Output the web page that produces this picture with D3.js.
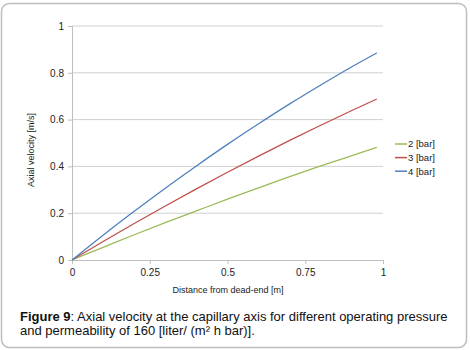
<!DOCTYPE html>
<html><head><meta charset="utf-8">
<script src="https://cdn.jsdelivr.net/npm/d3@7"></script>
<style>body{margin:0;background:#fff}svg{display:block;font-family:"Liberation Sans",Arial,sans-serif}</style>
</head><body><svg id="c" width="470" height="350"></svg>
<script>
const xs = [0, 0.1, 0.2, 0.3, 0.4, 0.5, 0.6, 0.7, 0.8, 0.9, 0.98];
const v2 = [0, 0.054, 0.108, 0.160, 0.210, 0.260, 0.308, 0.356, 0.402, 0.446, 0.481];
const v3 = [0, 0.079, 0.156, 0.231, 0.304, 0.375, 0.444, 0.511, 0.576, 0.639, 0.688];
const v4 = [0, 0.106, 0.208, 0.307, 0.402, 0.494, 0.582, 0.667, 0.748, 0.826, 0.885];
const seriesNames = ["2 [bar]", "3 [bar]", "4 [bar]"];
const seriesColors = ["#9BBB59", "#C0504D", "#4F81BD"];
const xTicks = [0, 0.25, 0.5, 0.75, 1];
const yTicks = [0, 0.2, 0.4, 0.6, 0.8, 1];

const svg = d3.select("#c");
svg.append("rect").attr("x",1.5).attr("y",3.5).attr("width",465).attr("height",344).attr("rx",8)
  .attr("fill","#fff").attr("stroke","#bdbdbd").attr("stroke-width",1.5);

const x = d3.scaleLinear().domain([0,1]).range([72,383]);
const y = d3.scaleLinear().domain([0,1]).range([260,26]);

// gridlines
svg.append("g").selectAll("line").data(yTicks.slice(1)).join("line")
  .attr("x1",x(0)).attr("x2",x(1)).attr("y1",d=>y(d)).attr("y2",d=>y(d))
  .attr("stroke","#d0d0d0").attr("stroke-width",1);

const gy = svg.append("g").attr("transform",`translate(${x(0)},0)`)
  .call(d3.axisLeft(y).tickValues(yTicks).tickSize(4).tickPadding(4).tickFormat(d3.format("~g")));
const gx = svg.append("g").attr("transform",`translate(0,${y(0)})`)
  .call(d3.axisBottom(x).tickValues(xTicks).tickSize(4).tickPadding(5).tickFormat(d3.format("~g")));
[gx,gy].forEach(g=>{
  g.select(".domain").attr("stroke","#bfbfbf");
  g.selectAll(".tick line").attr("stroke","#bfbfbf");
  g.selectAll("text").attr("font-size","10px").attr("fill","#222").attr("font-family","Liberation Sans, Arial, sans-serif");
});

const series = [v2, v3, v4];
const line = d3.line().x((d,i)=>x(xs[i])).y(d=>y(d)).curve(d3.curveMonotoneX);
svg.append("g").selectAll("path").data(series).join("path")
  .attr("d",d=>line(d)).attr("fill","none").attr("stroke",(d,i)=>seriesColors[i]).attr("stroke-width",1.3);

// axis titles
svg.append("text").attr("x",228).attr("y",293).attr("text-anchor","middle")
  .attr("font-size","9px").attr("fill","#222").text("Distance from dead-end [m]");
svg.append("text").attr("transform","translate(34,150) rotate(-90)").attr("text-anchor","middle")
  .attr("font-size","9px").attr("fill","#222").text("Axial velocity [m/s]");

// legend
const lg = svg.append("g").selectAll("g").data(seriesNames).join("g")
  .attr("transform",(d,i)=>`translate(395,${144+i*13.6})`);
lg.append("line").attr("x1",0).attr("x2",12).attr("stroke",(d,i)=>seriesColors[i]).attr("stroke-width",1.5);
lg.append("text").attr("x",13).attr("dy","0.35em").attr("font-size","9.5px").attr("fill","#222").text(d=>d);

// caption
const cap = svg.append("text").attr("font-size","13px").attr("fill","#111");
const l1 = cap.append("tspan").attr("x",20).attr("y",321);
l1.append("tspan").attr("font-weight","bold").text("Figure 9");
l1.append("tspan").text(": Axial velocity at the capillary axis for different operating pressure");
cap.append("tspan").attr("x",20).attr("y",335).text("and permeability of 160 [liter/ (m² h bar)].");
</script></body></html>
